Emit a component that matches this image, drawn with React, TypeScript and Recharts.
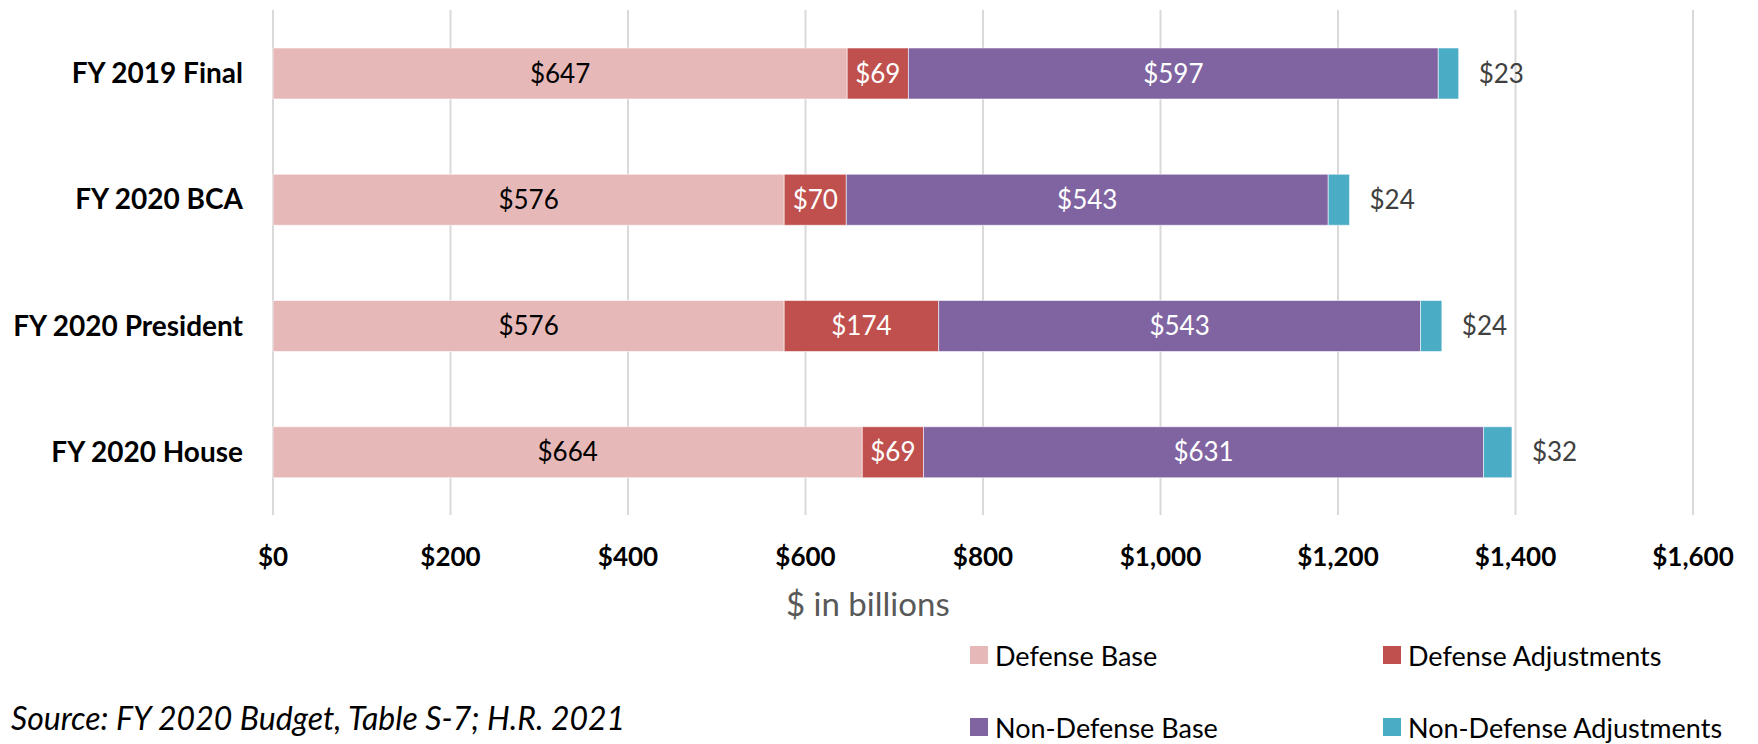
import { Bar, BarChart, CartesianGrid, LabelList, XAxis, YAxis } from "recharts"

const categories = ["FY 2019 Final", "FY 2020 BCA", "FY 2020 President", "FY 2020 House"]
const defenseBase = [647, 576, 576, 664]
const defenseAdjustments = [69, 70, 174, 69]
const nonDefenseBase = [597, 543, 543, 631]
const nonDefenseAdjustments = [23, 24, 24, 32]
const xTicks = [0, 200, 400, 600, 800, 1000, 1200, 1400, 1600]

const series = [
  { key: "defenseBase", name: "Defense Base", color: "#E6B9B8", labelColor: "#000000" },
  { key: "defenseAdj", name: "Defense Adjustments", color: "#C0504D", labelColor: "#FFFFFF" },
  { key: "nonDefenseBase", name: "Non-Defense Base", color: "#8064A2", labelColor: "#FFFFFF" },
  { key: "nonDefenseAdj", name: "Non-Defense Adjustments", color: "#4BACC6", labelColor: "#404040" },
] as const

const data = categories.map((name, i) => ({
  name,
  defenseBase: defenseBase[i],
  defenseAdj: defenseAdjustments[i],
  nonDefenseBase: nonDefenseBase[i],
  nonDefenseAdj: nonDefenseAdjustments[i],
}))

const font = "Lato, 'Noto Sans', sans-serif"
const money = (v: unknown) => `$${Number(v).toLocaleString("en-US")}`

// legend sits outside the chart so it doesn't eat plot height
function LegendBox() {
  return (
    <div
      style={{
        position: "absolute",
        left: 970,
        top: 619,
        display: "grid",
        gridTemplateColumns: "413px 380px",
        gridAutoRows: "72px",
        fontFamily: font,
        fontSize: 27,
        color: "#000",
      }}
    >
      {series.map((s) => (
        <div key={s.key} style={{ display: "flex", alignItems: "center" }}>
          <span style={{ width: 18, height: 18, background: s.color, marginRight: 7 }} />
          <span>{s.name}</span>
        </div>
      ))}
    </div>
  )
}

export default function App() {
  return (
    <div style={{ position: "absolute", left: 0, top: 0, width: 1758, height: 744, background: "#fff" }}>
      <BarChart
        width={1758}
        height={744}
        data={data}
        layout="vertical"
        margin={{ top: 10, right: 65, bottom: 0, left: 0 }}
        barSize={51}
        style={{ fontFamily: font }}
      >
        <CartesianGrid horizontal={false} stroke="#D9D9D9" strokeWidth={2} />
        <XAxis
          type="number"
          domain={[0, 1600]}
          ticks={xTicks}
          tickFormatter={money}
          axisLine={false}
          tickLine={false}
          tickSize={0}
          tickMargin={33}
          height={229}
          interval={0}
          tick={{ fill: "#000", fontSize: 26, fontWeight: 700, fontFamily: font }}
        />
        <YAxis
          type="category"
          dataKey="name"
          width={273}
          axisLine={false}
          tickLine={false}
          tickSize={0}
          tickMargin={30}
          tick={{ fill: "#000", fontSize: 28, fontWeight: 700, fontFamily: font }}
        />
        {series.map((s, idx) => (
          <Bar
            key={s.key}
            dataKey={s.key}
            name={s.name}
            stackId="total"
            fill={s.color}
            stroke="rgba(255,255,255,0.55)"
            strokeWidth={1}
            isAnimationActive={false}
          >
            <LabelList
              dataKey={s.key}
              position={idx === 3 ? "right" : "center"}
              offset={20}
              formatter={money}
              fill={s.labelColor}
              fontSize={26}
              fontFamily={font}
            />
          </Bar>
        ))}
      </BarChart>
      <LegendBox />
      <div
        style={{
          position: "absolute",
          left: 786,
          top: 585,
          fontFamily: font,
          fontSize: 33,
          lineHeight: "36px",
          color: "#595959",
        }}
      >
        $ in billions
      </div>
      <div
        style={{
          position: "absolute",
          left: 11,
          top: 700,
          fontFamily: font,
          fontSize: 32,
          lineHeight: "36px",
          fontStyle: "italic",
          color: "#000",
        }}
      >
        Source: FY 2020 Budget, Table S-7; H.R. 2021
      </div>
    </div>
  )
}
